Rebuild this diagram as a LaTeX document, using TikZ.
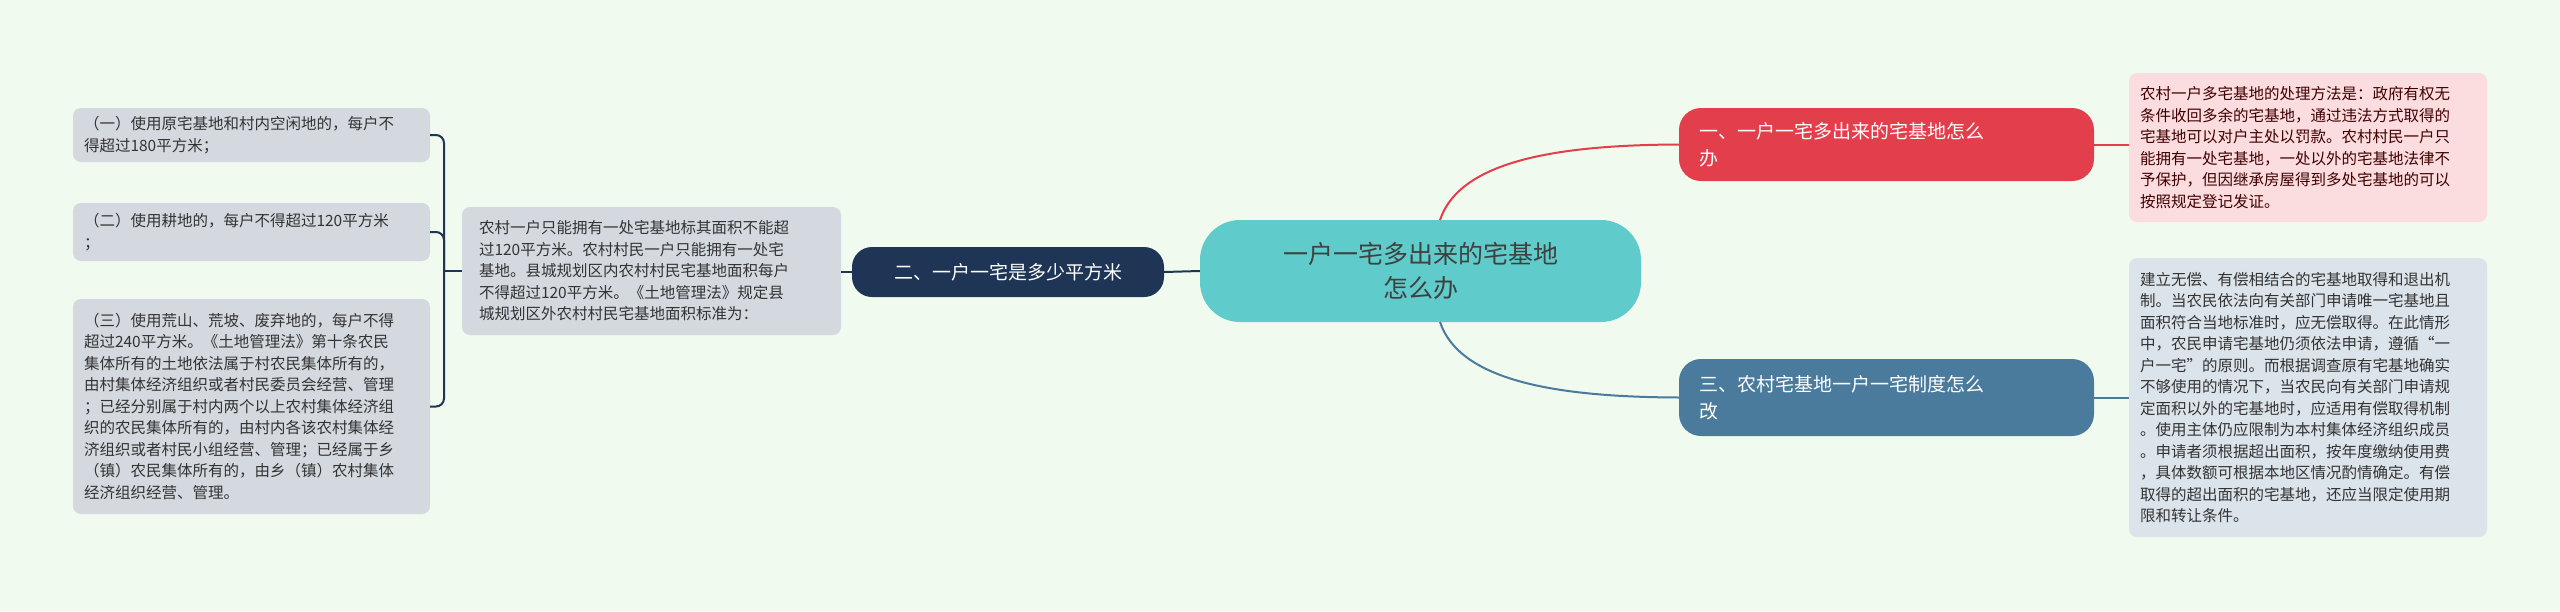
\documentclass[tikz,border=0pt]{standalone}
\usepackage{fontspec}
\newfontfamily\cjk{Noto Sans CJK SC}
\begin{document}
\begin{tikzpicture}[x=1pt,y=-1pt,
  every node/.style={font=\cjk, inner sep=0pt},
  leaf/.style={rounded corners=8pt, text=black!80, align=left, font=\cjk\fontsize{15.5}{21.5}\selectfont},
  topic/.style={rounded corners=22pt, text=white, align=left, font=\cjk\fontsize{19}{27}\selectfont},
  conn/.style={line width=2pt}]
\definecolor{bg}{HTML}{F0FAEE}
\definecolor{teal}{HTML}{5FCBCB}
\definecolor{redc}{HTML}{E33E4C}
\definecolor{bluec}{HTML}{4A7B9D}
\definecolor{navy}{HTML}{1E3556}
\definecolor{gleaf}{HTML}{D4D9DF}
\definecolor{pleaf}{HTML}{FBDCDF}
\definecolor{bleaf}{HTML}{DCE4EB}
\fill[bg] (0,0) rectangle (2560,611);
\useasboundingbox (0,0) rectangle (2560,611);
% nodes
\node[fill=teal, rounded corners=40pt, minimum width=441pt, minimum height=102pt, align=center, text=black!75, font=\cjk\fontsize{25}{34}\selectfont] (c) at (1420.5,271) {一户一宅多出来的宅基地\\怎么办};
\node[topic, fill=redc, minimum width=415pt, minimum height=73pt, text width=375pt] (r1) at (1886.5,144.5) {一、一户一宅多出来的宅基地怎么\\办};
\node[topic, fill=bluec, minimum width=415pt, minimum height=77pt, text width=375pt] (r2) at (1886.5,397.5) {三、农村宅基地一户一宅制度怎么\\改};
\node[topic, fill=navy, rounded corners=20pt, minimum width=312pt, minimum height=50pt, align=center] (l) at (1008,272) {二、一户一宅是多少平方米};
\node[leaf, fill=pleaf, minimum width=358pt, minimum height=149pt, text width=336pt, text=black!75!red] (p1) at (2308,147.5) {农村一户多宅基地的处理方法是：政府有权无\\条件收回多余的宅基地，通过违法方式取得的\\宅基地可以对户主处以罚款。农村村民一户只\\能拥有一处宅基地，一处以外的宅基地法律不\\予保护，但因继承房屋得到多处宅基地的可以\\按照规定登记发证。};
\node[leaf, fill=bleaf, minimum width=358pt, minimum height=279pt, text width=336pt] (p2) at (2308,397.5) {建立无偿、有偿相结合的宅基地取得和退出机\\制。当农民依法向有关部门申请唯一宅基地且\\面积符合当地标准时，应无偿取得。在此情形\\中，农民申请宅基地仍须依法申请，遵循“一\\户一宅”的原则。而根据调查原有宅基地确实\\不够使用的情况下，当农民向有关部门申请规\\定面积以外的宅基地时，应适用有偿取得机制\\。使用主体仍应限制为本村集体经济组织成员\\。申请者须根据超出面积，按年度缴纳使用费\\，具体数额可根据本地区情况酌情确定。有偿\\取得的超出面积的宅基地，还应当限定使用期\\限和转让条件。};
\node[leaf, fill=gleaf, minimum width=379pt, minimum height=128pt, text width=345pt] (m) at (651.5,271) {农村一户只能拥有一处宅基地标其面积不能超\\过120平方米。农村村民一户只能拥有一处宅\\基地。县城规划区内农村村民宅基地面积每户\\不得超过120平方米。《土地管理法》规定县\\城规划区外农村村民宅基地面积标准为：};
\node[leaf, fill=gleaf, minimum width=357pt, minimum height=54pt, text width=335pt] (a) at (251.5,135) {（一）使用原宅基地和村内空闲地的，每户不\\得超过180平方米；};
\node[leaf, fill=gleaf, minimum width=357pt, minimum height=58pt, text width=335pt] (b) at (251.5,232) {（二）使用耕地的，每户不得超过120平方米\\；};
\node[leaf, fill=gleaf, minimum width=357pt, minimum height=215pt, text width=335pt] (d) at (251.5,406.5) {（三）使用荒山、荒坡、废弃地的，每户不得\\超过240平方米。《土地管理法》第十条农民\\集体所有的土地依法属于村农民集体所有的，\\由村集体经济组织或者村民委员会经营、管理\\；已经分别属于村内两个以上农村集体经济组\\织的农民集体所有的，由村内各该农村集体经\\济组织或者村民小组经营、管理；已经属于乡\\（镇）农民集体所有的，由乡（镇）农村集体\\经济组织经营、管理。};
% connectors
\draw[conn, redc] (c.north) ++(0,0) coordinate (ct) (1440,220) .. controls (1460,160) and (1560,145) .. (r1.west);
\draw[conn, bluec] (1440,322) .. controls (1460,382) and (1560,397) .. (r2.west);
\draw[conn, redc] (r1.east) -- (p1.west |- r1.east);
\draw[conn, bluec] (r2.east) -- (p2.west |- r2.east);
\draw[conn, navy] (c.west) -- (l.east);
\draw[conn, navy] (l.west) -- (m.east |- l.west);
\coordinate (br) at (444,271);
\draw[conn, navy] (m.west) -- (br);
\draw[conn, navy, rounded corners=8pt] (a.east) -| (br) |- (d.east);
\draw[conn, navy, rounded corners=8pt] (b.east) -| (br);
\end{tikzpicture}
\end{document}
